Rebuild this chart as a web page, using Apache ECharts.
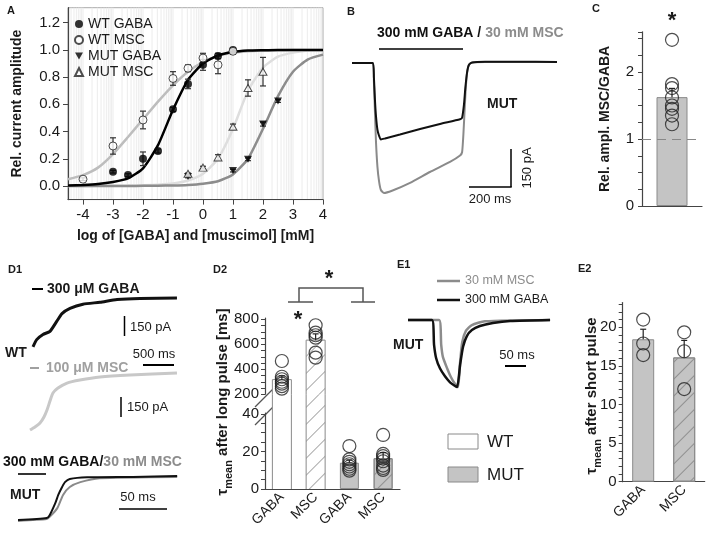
<!DOCTYPE html>
<html><head><meta charset="utf-8">
<script src="https://cdn.jsdelivr.net/npm/echarts@6/dist/echarts.min.js"></script>
<style>html,body{margin:0;padding:0;background:#fff}#c{width:708px;height:533px}</style>
</head><body><div id="c"></div>
<script>
// ---------- Panel A: dose-response ----------
const fitX = [-4.5,-4,-3.5,-3,-2.5,-2,-1.5,-1,-0.5,0,0.5,1,1.5,2,2.5,3,3.5,4];
const wtGabaFit  = [0.004,0.008,0.015,0.03,0.056,0.13,0.3,0.56,0.78,0.9,0.96,0.985,0.995,0.998,1,1,1,1];
const wtMscFit   = [0.05,0.08,0.135,0.235,0.36,0.49,0.62,0.74,0.84,0.91,0.955,0.978,0.99,0.995,0.998,1,1,1];
const mutMscFit  = [0,0,0.001,0.002,0.003,0.006,0.01,0.018,0.04,0.09,0.2,0.42,0.7,0.87,0.95,0.98,0.995,1];
const mutGabaFit = [0,0,0,0,0,0.001,0.002,0.004,0.008,0.017,0.035,0.085,0.2,0.42,0.66,0.84,0.93,0.965];

const wtGabaX = [-3,-2.5,-2,-1.5,-1,-0.5,0,0.5,1];
const wtGabaY = [0.105,0.08,0.2,0.257,0.563,0.75,0.89,0.955,1.0];
const wtGabaE = [0.01,0.01,0.05,0.015,0.015,0.035,0.04,0.02,0.015];
const wtMscX = [-4,-3,-2,-1,-0.5,0,0.5,1];
const wtMscY = [0.05,0.294,0.485,0.79,0.865,0.94,0.89,0.99];
const wtMscE = [0.01,0.06,0.065,0.05,0.025,0.035,0.065,0.02];
const mutGabaX = [-0.5,1,1.5,2,2.5];
const mutGabaY = [0.07,0.113,0.196,0.455,0.624];
const mutGabaE = [0.01,0.01,0.01,0.015,0.01];
const mutMscX = [-0.5,0,0.5,1,1.5,2];
const mutMscY = [0.09,0.135,0.21,0.435,0.72,0.84];
const mutMscE = [0.005,0.01,0.02,0.02,0.06,0.105];
const aTicksX = [-4,-3,-2,-1,0,1,2,3,4];
const aTicksY = [0,0.2,0.4,0.6,0.8,1.0,1.2];

// ---------- Panel B: MUT traces (ms, pA) ----------
const bGaba = [[0,0],[102,0],[107,-60],[112,-150],[117,-215],[124,-270],[132,-295],[141,-310],[161,-306],[234,-290],[332,-268],[429,-247],[527,-228],[537,-222],[546,-170],[553,-100],[561,-40],[570,-8],[585,2],[650,5],[800,5],[1000,4]];
const bMsc  = [[0,0],[102,0],[107,-80],[112,-200],[117,-320],[124,-420],[132,-480],[141,-515],[156,-527],[195,-518],[283,-486],[380,-442],[478,-401],[527,-375],[537,-362],[544,-280],[550,-180],[556,-90],[563,-30],[572,-5],[590,2],[650,4],[1000,4]];

// ---------- Panel C ----------
const cCats = ['MSC/GABA'];
const cMean = [1.625];
const cSem = [0.13];
const cPoints = [2.48,1.82,1.76,1.62,1.5,1.45,1.35,1.22];

// ---------- Panel D1: deactivation traces ----------
const d1WtGaba = [[16,-371],[76,-316],[177,-277],[290,-253],[403,-174],[483,-119],[612,-79],[821,-47],[1095,-32],[1369,-12],[1739,-3],[2335,0]];
const d1WtMsc  = [[0,-433],[80,-410],[161,-380],[225,-334],[274,-281],[322,-213],[370,-152],[451,-114],[596,-76],[805,-53],[1127,-30],[1610,-15],[2367,0]];
const d1MutGaba = [[0,-1],[30,-0.955],[33,-0.89],[39,-0.61],[42,-0.43],[46,-0.25],[49,-0.14],[54,-0.07],[72,-0.03],[120,-0.02],[166,0]];
const d1MutMsc  = [[0,-1.02],[30,-0.98],[33,-0.93],[41,-0.73],[47,-0.43],[54,-0.25],[65,-0.14],[85,-0.05],[166,-0.02]];

// ---------- Panel D2 ----------
const d2Cats = ['GABA','MSC','GABA','MSC'];
const d2Mean = [317, 633, 14.0, 16.4];
const d2Sem  = [30, 50, 1.5, 3.0];
const d2WtGaba = [466,340,320,300,285,265,245];
const d2WtMsc  = [752,693,672,653,533,493];
const d2MutGaba = [22.9,15.8,14.5,13.2,12.0,10.8,9.8];
const d2MutMsc  = [28.8,18.7,17.5,16.2,14.8,12.5,11.2,10.2];

// ---------- Panel E1 ----------
const e1Gaba = [[0,0],[57,0],[62,-0.37],[67,-0.57],[76,-0.72],[88,-0.84],[100,-0.93],[112,-0.985],[117,-1],[124,-0.67],[131,-0.4],[140,-0.24],[152,-0.15],[171,-0.09],[202,-0.045],[243,-0.015],[338,0]];
const e1Msc  = [[0,0],[74,0],[79,-0.37],[83,-0.55],[93,-0.72],[102,-0.85],[112,-0.955],[119,-1],[124,-0.63],[129,-0.33],[138,-0.16],[152,-0.075],[183,-0.02],[338,0]];

// ---------- Panel E2 ----------
const e2Cats = ['GABA','MSC'];
const e2Mean = [18.45, 16.1];
const e2Sem  = [1.3, 2.2];
const e2Gaba = [21.0,17.9,16.4];
const e2Msc  = [19.35,16.9,12.0];

// ---------- helpers ----------
const FONT = '"Liberation Sans", Arial, sans-serif';
const AX = '#444', TXT = '#1a1a1a';
const zip = (xs, ys) => xs.map((x, i) => [x, ys[i]]);
const zip3 = (xs, ys, es) => xs.map((x, i) => [x, ys[i], es[i]]);
const idxPts = (idx, vals) => vals.map(v => [idx, v]);

function errRender(capHalf, upOnly, color) {
  return function (params, api) {
    const x = api.value(0), y = api.value(1), e = api.value(2);
    const top = api.coord([x, y + e]);
    const bot = api.coord(upOnly ? [x, y] : [x, y - e]);
    const st = {stroke: color, lineWidth: 1.2};
    const ch = [
      {type: 'line', shape: {x1: top[0], y1: top[1], x2: bot[0], y2: bot[1]}, style: st},
      {type: 'line', shape: {x1: top[0] - capHalf, y1: top[1], x2: top[0] + capHalf, y2: top[1]}, style: st}
    ];
    if (!upOnly) ch.push({type: 'line', shape: {x1: bot[0] - capHalf, y1: bot[1], x2: bot[0] + capHalf, y2: bot[1]}, style: st});
    return {type: 'group', children: ch};
  };
}
// outline of a bar that may be cut by a broken axis: sides + top only inside the grid
function outlineRender(params, api) {
  const cs = params.coordSys, hw = 9.5;
  const c = api.coord([api.value(0), api.value(1)]);
  const b = api.coord([api.value(0), 0]);
  const clamp = y => Math.max(cs.y, Math.min(cs.y + cs.height, y));
  const yt = clamp(c[1]), yb = clamp(b[1]);
  const st = {stroke: '#8a8a8a', lineWidth: 1};
  const ch = [
    {type: 'line', shape: {x1: c[0] - hw, y1: yt, x2: c[0] - hw, y2: yb}, style: st},
    {type: 'line', shape: {x1: c[0] + hw, y1: yt, x2: c[0] + hw, y2: yb}, style: st}
  ];
  if (c[1] >= cs.y && c[1] <= cs.y + cs.height) ch.push({type: 'line', shape: {x1: c[0] - hw, y1: c[1], x2: c[0] + hw, y2: c[1]}, style: st});
  return {type: 'group', children: ch};
}
const stripeData = [];
for (let d = -5; d < 4; d++) for (let k = 1; k < 10; k++) { const v = d + Math.log10(k); if (v > -4.5 && v < 4) stripeData.push([v, 0]); }

const hatch = {symbol: 'rect', symbolSize: 1, dashArrayX: [1, 0], dashArrayY: [1, 11], rotation: -Math.PI / 4, color: '#a8a8a8'};
const wtStyle = {color: '#fff', borderWidth: 0};
const wtHatch = {color: '#fff', borderWidth: 0, decal: hatch};
const mutStyle = {color: '#c4c4c4', borderColor: '#8a8a8a', borderWidth: 1};
const mutHatch = {color: '#c4c4c4', borderColor: '#8a8a8a', borderWidth: 1, decal: Object.assign({}, hatch, {color: '#8f8f8f'})};
const openCircle = {color: 'rgba(0,0,0,0)', borderColor: '#222', borderWidth: 1.2};

const hiddenV = (gi, min, max) => ({type: 'value', gridIndex: gi, min, max, show: false, splitLine: {show: false}});
const hiddenC = (gi, data) => ({type: 'category', gridIndex: gi, data, show: false});
const lbl = (size) => ({color: TXT, fontSize: size, fontFamily: FONT});

const grids = [
  {left: 68, top: 7.7, width: 255, height: 191.9, show: true, borderColor: '#aaa', borderWidth: 1, backgroundColor: 'transparent'}, // 0 A
  {left: 352, top: 48.2, width: 205, height: 152.9},   // 1 B
  {left: 642, top: 31.8, width: 60, height: 174.2},    // 2 C
  {left: 32, top: 295.4, width: 149, height: 57.9},    // 3 D1 WT GABA
  {left: 30, top: 370.4, width: 149, height: 64.5},    // 4 D1 WT MSC
  {left: 18, top: 471.6, width: 163, height: 52.8},    // 5 D1 MUT
  {left: 265, top: 318, width: 135, height: 76.25},    // 6 D2 upper
  {left: 265, top: 394.25, width: 135, height: 18.75}, // 7 D2 gap
  {left: 265, top: 413, width: 135, height: 76},       // 8 D2 lower
  {left: 408, top: 313.3, width: 142.9, height: 80.4}, // 9 E1
  {left: 622.7, top: 302.6, width: 82, height: 179.1}  // 10 E2
];

const xAxes = [
  {type: 'value', gridIndex: 0, min: -4.5, max: 4, splitLine: {show: false},
   axisLine: {onZero: false, lineStyle: {color: AX, width: 1.2}},
   axisTick: {customValues: aTicksX, length: 5, lineStyle: {color: AX}},
   axisLabel: Object.assign({customValues: aTicksX, margin: 8}, lbl(15)),
   name: 'log of [GABA] and [muscimol] [mM]', nameLocation: 'middle', nameGap: 30,
   nameTextStyle: {color: TXT, fontSize: 14, fontWeight: 'bold', fontFamily: FONT}},
  hiddenV(1, 0, 1000),
  {type: 'category', gridIndex: 2, data: cCats, axisLine: {lineStyle: {color: AX, width: 1.2}}, axisTick: {show: false}, axisLabel: {show: false}},
  hiddenV(3, 0, 2400),
  hiddenV(4, 0, 2400),
  hiddenV(5, 0, 170),
  hiddenC(6, d2Cats),
  hiddenC(7, d2Cats),
  {type: 'category', gridIndex: 8, data: d2Cats, axisLine: {lineStyle: {color: AX, width: 1.2}}, axisTick: {show: false},
   axisLabel: Object.assign({rotate: 45, margin: 6, interval: 0}, lbl(14))},
  hiddenV(9, 0, 340),
  {type: 'category', gridIndex: 10, data: e2Cats, axisLine: {lineStyle: {color: AX, width: 1.2}}, axisTick: {show: false},
   axisLabel: Object.assign({rotate: 45, margin: 6, interval: 0}, lbl(14))}
];

const yAxes = [
  {type: 'value', gridIndex: 0, min: -0.1, max: 1.31, splitLine: {show: false},
   axisLine: {show: true, onZero: false, lineStyle: {color: AX, width: 1.2}},
   axisTick: {show: true, customValues: aTicksY, length: 5, lineStyle: {color: AX}},
   axisLabel: Object.assign({customValues: aTicksY, margin: 8, formatter: v => v.toFixed(1)}, lbl(15)),
   name: 'Rel. current amplitude', nameLocation: 'middle', nameGap: 44,
   nameTextStyle: {color: TXT, fontSize: 14, fontWeight: 'bold', fontFamily: FONT}},
  hiddenV(1, -560, 60),
  {type: 'value', gridIndex: 2, min: 0, max: 2.6, interval: 0.25, splitLine: {show: false},
   axisLine: {show: true, lineStyle: {color: AX, width: 1.2}},
   axisTick: {show: true, length: 4, lineStyle: {color: AX}},
   axisLabel: Object.assign({margin: 8, formatter: v => (Math.abs(v - Math.round(v)) < 1e-6 ? String(Math.round(v)) : '')}, lbl(15)),
   name: 'Rel. ampl. MSC/GABA', nameLocation: 'middle', nameGap: 30,
   nameTextStyle: {color: TXT, fontSize: 14, fontWeight: 'bold', fontFamily: FONT}},
  hiddenV(3, -420, 20),
  hiddenV(4, -470, 20),
  hiddenV(5, -1.1, 0.1),
  {type: 'value', gridIndex: 6, min: 200, max: 810, interval: 50, splitLine: {show: false},
   axisLine: {show: true, lineStyle: {color: AX, width: 1.2}},
   axisTick: {show: true, length: 4, lineStyle: {color: AX}},
   axisLabel: Object.assign({margin: 6, showMaxLabel: false, formatter: v => (v % 200 === 0 ? String(v) : '')}, lbl(15))},
  hiddenV(7, 40.5, 50.6),
  {type: 'value', gridIndex: 8, min: 0, max: 40.5, interval: 5, splitLine: {show: false},
   axisLine: {show: true, lineStyle: {color: AX, width: 1.2}},
   axisTick: {show: true, length: 4, lineStyle: {color: AX}},
   axisLabel: Object.assign({margin: 6, showMaxLabel: false, formatter: v => (v % 20 === 0 ? String(v) : '')}, lbl(15))},
  hiddenV(9, -1.1, 0.1),
  {type: 'value', gridIndex: 10, min: 0, max: 23.2, interval: 1, splitLine: {show: false},
   axisLine: {show: true, lineStyle: {color: AX, width: 1.2}},
   axisTick: {show: true, length: 4, lineStyle: {color: AX}},
   axisLabel: Object.assign({margin: 6, showMaxLabel: false, formatter: v => (v % 5 === 0 ? String(v) : '')}, lbl(15))}
];

const line = (name, gi, data, color, width, z) => ({type: 'line', name, xAxisIndex: gi, yAxisIndex: gi, data, symbol: 'none',
  showSymbol: false, smooth: 0.2, lineStyle: {color, width}, itemStyle: {color}, z: z || 2, silent: true, animation: false});

const downTri = 'path://M0,0L10,0L5,8.66Z';
const wtBarData = [{value: d2Mean[0], itemStyle: wtStyle}, {value: d2Mean[1], itemStyle: wtHatch}];
const wtOutline = [[0, d2Mean[0]], [1, d2Mean[1]]];
const series = [
  // A
  {type: 'custom', xAxisIndex: 0, yAxisIndex: 0, data: stripeData, silent: true, z: 0,
   renderItem: (p, api) => { const cs = p.coordSys; const pt = api.coord([api.value(0), 0]);
     return {type: 'line', shape: {x1: pt[0], y1: cs.y, x2: pt[0], y2: cs.y + cs.height}, style: {stroke: '#ececec', lineWidth: 1}}; }},
  line('fitWtMsc', 0, zip(fitX, wtMscFit), '#bdbdbd', 2.5),
  line('fitMutMsc', 0, zip(fitX, mutMscFit), '#dedede', 2.5),
  line('fitMutGaba', 0, zip(fitX, mutGabaFit), '#8c8c8c', 2.5),
  line('fitWtGaba', 0, zip(fitX, wtGabaFit), '#000', 2.5),
  {type: 'custom', xAxisIndex: 0, yAxisIndex: 0, data: zip3(wtGabaX, wtGabaY, wtGabaE), renderItem: errRender(3, false, '#333'), z: 3, silent: true},
  {type: 'custom', xAxisIndex: 0, yAxisIndex: 0, data: zip3(wtMscX, wtMscY, wtMscE), renderItem: errRender(3, false, '#333'), z: 3, silent: true},
  {type: 'custom', xAxisIndex: 0, yAxisIndex: 0, data: zip3(mutGabaX, mutGabaY, mutGabaE), renderItem: errRender(3, false, '#333'), z: 3, silent: true},
  {type: 'custom', xAxisIndex: 0, yAxisIndex: 0, data: zip3(mutMscX, mutMscY, mutMscE), renderItem: errRender(3, false, '#333'), z: 3, silent: true},
  {type: 'scatter', name: 'WT GABA', xAxisIndex: 0, yAxisIndex: 0, data: zip(wtGabaX, wtGabaY), symbol: 'circle', symbolSize: 8, itemStyle: {color: '#000'}, z: 4},
  {type: 'scatter', name: 'WT MSC', xAxisIndex: 0, yAxisIndex: 0, data: zip(wtMscX, wtMscY), symbol: 'circle', symbolSize: 8, itemStyle: {color: '#fff', borderColor: '#222', borderWidth: 1}, z: 4},
  {type: 'scatter', name: 'MUT GABA', xAxisIndex: 0, yAxisIndex: 0, data: zip(mutGabaX, mutGabaY), symbol: downTri, symbolSize: [8, 7], itemStyle: {color: '#000'}, z: 4},
  {type: 'scatter', name: 'MUT MSC', xAxisIndex: 0, yAxisIndex: 0, data: zip(mutMscX, mutMscY), symbol: 'triangle', symbolSize: [8, 7], itemStyle: {color: '#fff', borderColor: '#222', borderWidth: 1}, z: 4},
  // B
  line('bMsc', 1, bMsc, '#8a8a8a', 2),
  line('bGaba', 1, bGaba, '#111', 2, 3),
  // C
  {type: 'bar', xAxisIndex: 2, yAxisIndex: 2, data: cMean, barWidth: 31, itemStyle: mutStyle, silent: true,
   markLine: {silent: true, symbol: ['none', 'none'], label: {show: false}, lineStyle: {type: [9, 6], color: '#888', width: 1.2}, data: [{yAxis: 1}]}},
  {type: 'scatter', xAxisIndex: 2, yAxisIndex: 2, data: idxPts(0, cPoints), symbol: 'circle', symbolSize: 13, itemStyle: openCircle, z: 4},
  {type: 'custom', xAxisIndex: 2, yAxisIndex: 2, data: cMean.map((m, i) => [i, m, cSem[i]]), renderItem: errRender(3, true, '#222'), z: 5, silent: true},
  // D1
  line('d1WtGaba', 3, d1WtGaba, '#111', 3),
  line('d1WtMsc', 4, d1WtMsc, '#c8c8c8', 3),
  line('d1MutMsc', 5, d1MutMsc, '#8a8a8a', 2),
  line('d1MutGaba', 5, d1MutGaba, '#111', 2, 3),
  // D2
  {type: 'bar', xAxisIndex: 6, yAxisIndex: 6, barWidth: 19, silent: true, data: wtBarData.concat(['-', '-'])},
  {type: 'bar', xAxisIndex: 7, yAxisIndex: 7, barWidth: 19, silent: true, data: wtBarData.concat(['-', '-'])},
  {type: 'bar', xAxisIndex: 8, yAxisIndex: 8, barWidth: 19, silent: true,
   data: wtBarData.concat([{value: d2Mean[2], itemStyle: mutStyle}, {value: d2Mean[3], itemStyle: mutHatch}])},
  {type: 'custom', xAxisIndex: 6, yAxisIndex: 6, data: wtOutline, renderItem: outlineRender, z: 3, silent: true},
  {type: 'custom', xAxisIndex: 7, yAxisIndex: 7, data: wtOutline, renderItem: outlineRender, z: 3, silent: true},
  {type: 'custom', xAxisIndex: 8, yAxisIndex: 8, data: wtOutline, renderItem: outlineRender, z: 3, silent: true},
  {type: 'scatter', xAxisIndex: 6, yAxisIndex: 6, data: idxPts(0, d2WtGaba).concat(idxPts(1, d2WtMsc)), symbol: 'circle', symbolSize: 13, itemStyle: openCircle, z: 4},
  {type: 'scatter', xAxisIndex: 8, yAxisIndex: 8, data: idxPts(2, d2MutGaba).concat(idxPts(3, d2MutMsc)), symbol: 'circle', symbolSize: 13, itemStyle: openCircle, z: 4},
  {type: 'custom', xAxisIndex: 6, yAxisIndex: 6, data: [[0, d2Mean[0], d2Sem[0]], [1, d2Mean[1], d2Sem[1]]], renderItem: errRender(3, true, '#222'), z: 5, silent: true},
  {type: 'custom', xAxisIndex: 8, yAxisIndex: 8, data: [[2, d2Mean[2], d2Sem[2]], [3, d2Mean[3], d2Sem[3]]], renderItem: errRender(3, true, '#222'), z: 5, silent: true},
  // E1
  line('30 mM MSC', 9, e1Msc, '#8c8c8c', 2.5),
  line('300 mM GABA', 9, e1Gaba, '#111', 2.5, 3),
  // E2
  {type: 'bar', xAxisIndex: 10, yAxisIndex: 10, barWidth: 22, silent: true,
   data: [{value: e2Mean[0], itemStyle: mutStyle}, {value: e2Mean[1], itemStyle: mutHatch}]},
  {type: 'scatter', xAxisIndex: 10, yAxisIndex: 10, data: idxPts(0, e2Gaba).concat(idxPts(1, e2Msc)), symbol: 'circle', symbolSize: 13, itemStyle: openCircle, z: 4},
  {type: 'custom', xAxisIndex: 10, yAxisIndex: 10, data: e2Mean.map((m, i) => [i, m, e2Sem[i]]), renderItem: errRender(3, true, '#222'), z: 5, silent: true}
];

// ---------- annotations ----------
const T = (x, y, text, o, rot) => ({type: 'text', x, y, rotation: rot || 0, silent: true,
  style: Object.assign({text, fill: TXT, fontSize: 13, fontFamily: FONT, align: 'left', verticalAlign: 'middle'}, o || {})});
const L = (x1, y1, x2, y2, w, c) => ({type: 'line', silent: true, shape: {x1, y1, x2, y2}, style: {stroke: c || '#000', lineWidth: w || 1.5}});
const richKG = (g) => ({k: {fill: '#111', fontSize: 14, fontWeight: 'bold', fontFamily: FONT}, g: {fill: g, fontSize: 14, fontWeight: 'bold', fontFamily: FONT}});
const tauRich = {t: {fill: TXT, fontSize: 15, fontWeight: 'bold', fontFamily: FONT, lineHeight: 22, verticalAlign: 'bottom'},
                 s: {fill: TXT, fontSize: 11, fontWeight: 'bold', fontFamily: FONT, lineHeight: 22, verticalAlign: 'bottom', padding: [0, 0, -4, 0]}};

const elements = [
  T(7, 11, 'A', {fontSize: 11, fontWeight: 'bold'}),
  T(347, 12, 'B', {fontSize: 11, fontWeight: 'bold'}),
  T(592, 9, 'C', {fontSize: 11, fontWeight: 'bold'}),
  T(8, 270, 'D1', {fontSize: 11, fontWeight: 'bold'}),
  T(213, 270, 'D2', {fontSize: 11, fontWeight: 'bold'}),
  T(397, 265, 'E1', {fontSize: 11, fontWeight: 'bold'}),
  T(578, 269, 'E2', {fontSize: 11, fontWeight: 'bold'}),
  // B
  T(377, 33, '{k|300 mM GABA / }{g|30 mM MSC}', {rich: richKG('#8c8c8c')}),
  L(379, 49, 463, 49, 1.6),
  T(487, 104, 'MUT', {fontSize: 14, fontWeight: 'bold'}),
  L(511, 149, 511, 187, 1.5), L(469, 187, 511.7, 187, 1.5),
  T(527, 168, '150 pA', {align: 'center', fontSize: 13}, Math.PI / 2),
  T(490, 199, '200 ms', {align: 'center', fontSize: 13}),
  // C
  T(672, 21, '*', {align: 'center', fontSize: 22, fontWeight: 'bold'}),
  // D1
  L(32, 289, 43, 289, 2),
  T(47, 289, '300 μM GABA', {fontSize: 14, fontWeight: 'bold'}),
  L(124.5, 316, 124.5, 336, 1.5),
  T(130, 327, '150 pA', {fontSize: 13}),
  T(5, 353, 'WT', {fontSize: 14, fontWeight: 'bold'}),
  T(154, 354, '500 ms', {align: 'center', fontSize: 13}),
  L(143, 365, 174, 365, 2),
  L(30, 368, 39, 368, 2, '#a0a0a0'),
  T(46, 368, '100 μM MSC', {fontSize: 14, fontWeight: 'bold', fill: '#a0a0a0'}),
  L(121, 397, 121, 417, 1.5),
  T(127, 407, '150 pA', {fontSize: 13}),
  T(3, 462, '{k|300 mM GABA/}{g|30 mM MSC}', {rich: richKG('#8c8c8c')}),
  L(18, 474, 46, 474, 1.6),
  T(10, 495, 'MUT', {fontSize: 14, fontWeight: 'bold'}),
  T(138, 497, '50 ms', {align: 'center', fontSize: 13}),
  L(119, 509, 167, 509, 1.6),
  // D2
  L(255, 407, 276, 386, 1.2, '#555'), L(255, 425, 276, 404, 1.2, '#555'),
  {type: 'polyline', silent: true, shape: {points: [[299, 302], [299, 288], [363, 288], [363, 302]]}, style: {stroke: '#555', lineWidth: 1.5, fill: null}},
  L(288, 302, 313, 302, 1.5, '#555'), L(351, 302, 375, 302, 1.5, '#555'),
  T(329, 279, '*', {align: 'center', fontSize: 22, fontWeight: 'bold'}),
  T(298, 320, '*', {align: 'center', fontSize: 22, fontWeight: 'bold'}),
  T(219, 402, '{t|τ}{s|mean}{t| after long pulse [ms]}', {rich: tauRich, align: 'center', verticalAlign: 'middle'}, Math.PI / 2),
  // E1
  T(393, 345, 'MUT', {fontSize: 14, fontWeight: 'bold'}),
  T(517, 355, '50 ms', {align: 'center', fontSize: 13}),
  L(505, 366, 526, 366, 2),
  // WT / MUT key
  {type: 'rect', silent: true, shape: {x: 448, y: 434, width: 30, height: 15}, style: {fill: '#fff', stroke: '#8a8a8a', lineWidth: 1}},
  T(487, 442, 'WT', {fontSize: 17}),
  {type: 'rect', silent: true, shape: {x: 448, y: 467, width: 30, height: 15}, style: {fill: '#c4c4c4', stroke: '#8a8a8a', lineWidth: 1}},
  T(487, 475, 'MUT', {fontSize: 17}),
  // E2
  T(588, 396, '{t|τ}{s|mean}{t| after short pulse}', {rich: tauRich, align: 'center', verticalAlign: 'middle'}, Math.PI / 2)
];

const chart = echarts.init(document.getElementById('c'), null, {renderer: 'canvas'});
chart.setOption({
  animation: false,
  backgroundColor: '#fff',
  textStyle: {fontFamily: FONT},
  grid: grids,
  xAxis: xAxes,
  yAxis: yAxes,
  legend: [
    {data: ['WT GABA', 'WT MSC', 'MUT GABA', 'MUT MSC'], orient: 'vertical', left: 74, top: 16, itemGap: 0, padding: 0,
     itemWidth: 8, itemHeight: 8, selectedMode: false, textStyle: {color: TXT, fontSize: 14, lineHeight: 16, fontFamily: FONT}},
    {data: [{name: '30 mM MSC', icon: 'rect', textStyle: {color: '#8c8c8c'}}, {name: '300 mM GABA', icon: 'rect'}],
     orient: 'vertical', left: 437, top: 274, padding: 0,
     itemGap: 5, itemWidth: 23, itemHeight: 2.5, selectedMode: false, textStyle: {color: TXT, fontSize: 12.5, lineHeight: 14, fontFamily: FONT}}
  ],
  graphic: {elements},
  series
});
</script></body></html>
